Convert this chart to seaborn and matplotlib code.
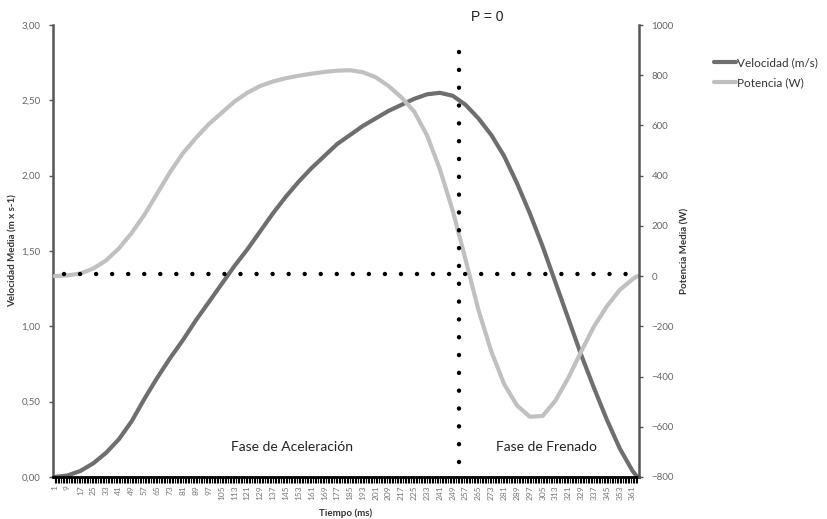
import matplotlib
matplotlib.use("Agg")
import matplotlib.pyplot as plt
from matplotlib.ticker import FuncFormatter, FixedLocator
from matplotlib.lines import Line2D
import seaborn as sns
import pandas as pd

# ---- data ----
tiempo = [1, 9, 17, 25, 33, 41, 49, 57, 65, 73, 81, 89, 97, 105, 113, 121, 129, 137,
          145, 153, 161, 169, 177, 185, 193, 201, 209, 217, 225, 233, 241, 249, 257,
          265, 273, 281, 289, 297, 305, 313, 321, 329, 337, 345, 353, 361, 364]
velocidad = [0.00, 0.01, 0.04, 0.09, 0.16, 0.25, 0.37, 0.52, 0.66, 0.79, 0.91, 1.04,
             1.16, 1.28, 1.40, 1.51, 1.63, 1.75, 1.86, 1.96, 2.05, 2.13, 2.21, 2.27,
             2.33, 2.38, 2.43, 2.47, 2.51, 2.54, 2.55, 2.53, 2.47, 2.38, 2.27, 2.13,
             1.95, 1.75, 1.53, 1.29, 1.05, 0.81, 0.59, 0.38, 0.19, 0.04, 0.00]
potencia = [0, 3, 10, 30, 62, 110, 172, 245, 330, 415, 490, 550, 605, 650, 695, 730,
            757, 775, 788, 798, 806, 813, 818, 820, 812, 792, 757, 712, 655, 560, 425,
            260, 65, -135, -300, -430, -515, -560, -557, -495, -405, -300, -200, -120,
            -55, -12, 0]
x_labels = list(range(1, 362, 8))
p_zero_t = 253          # vertical dotted line position (ms)
p_zero_level = 10       # horizontal dotted line (W)

vel_color = "#6e6e6e"
pot_color = "#c0c0c0"

sns.set_style("white")
plt.rcParams["font.family"] = ["Lato", "DejaVu Sans"]

fig = plt.figure(figsize=(8.27, 5.19), dpi=100)
ax = fig.add_axes([53/827, 1-477/519, (639-53)/827, (477-25)/519])
ax2 = ax.twinx()

df = pd.DataFrame({"t": tiempo, "v": velocidad, "p": potencia})
sns.lineplot(data=df, x="t", y="v", ax=ax, color=vel_color, lw=3, legend=False)
sns.lineplot(data=df, x="t", y="p", ax=ax2, color=pot_color, lw=3, legend=False)

ax.set_xlim(0, 365)
ax.set_ylim(0, 3.0)
ax2.set_ylim(-800, 1000)

# dotted lines
ax2.plot([7, 365], [p_zero_level, p_zero_level], color="black", lw=3.2,
         linestyle=(0, (0.01, 3.6)), dash_capstyle="round", zorder=5)
ax2.plot([p_zero_t, p_zero_t], [-740, 896], color="black", lw=3.2,
         linestyle=(0, (0.01, 4.0)), dash_capstyle="round", zorder=5)

# ticks
ax.set_yticks([0, 0.5, 1.0, 1.5, 2.0, 2.5, 3.0])
ax.yaxis.set_major_formatter(FuncFormatter(lambda v, p: f"{v:.2f}".replace(".", ",")))
ax2.set_yticks(list(range(-800, 1001, 200)))
ax.set_xticks(x_labels)
ax.set_xticklabels([str(v) for v in x_labels], rotation=90)
ax.xaxis.set_minor_locator(FixedLocator(list(range(1, 365))))

ax.tick_params(axis="y", which="major", direction="out", length=3, width=1,
               color="#555555", labelsize=7, labelcolor="#666666", pad=6, left=True)
ax2.tick_params(axis="y", which="major", direction="out", length=3, width=1,
                color="#555555", labelsize=7, labelcolor="#666666", pad=6, right=True)
ax.tick_params(axis="x", which="both", direction="out", length=4, width=0.8,
               color="black", labelsize=6, labelcolor="#777777", pad=2, bottom=True)

for a in (ax, ax2):
    a.spines["top"].set_visible(False)
ax.spines["right"].set_visible(False)
ax2.spines["left"].set_visible(False)
ax2.spines["bottom"].set_visible(False)
ax.spines["left"].set_color("#555555")
ax.spines["left"].set_linewidth(1.8)
ax2.spines["right"].set_color("#555555")
ax2.spines["right"].set_linewidth(1.8)
ax.spines["bottom"].set_color("black")
ax.spines["bottom"].set_linewidth(2)

ax.set_xlabel("Tiempo (ms)", fontsize=7, fontweight="bold", color="#333333", labelpad=6)
ax.set_ylabel("Velocidad Media (m x s-1)", fontsize=7, fontweight="bold", color="#333333", labelpad=3)
ax2.set_ylabel("Potencia Media (W)", fontsize=7, fontweight="bold", color="#333333", labelpad=5)

# annotations
fig.text(487/827, 1-17/519, "P = 0", ha="center", va="center", fontsize=10,
         family=["Liberation Sans", "DejaVu Sans"], color="#222222")
ax.text(0.408, 0.066, "Fase de Aceleración", transform=ax.transAxes, ha="center",
        va="center", fontsize=10, color="#222222")
ax.text(0.842, 0.066, "Fase de Frenado", transform=ax.transAxes, ha="center",
        va="center", fontsize=10, color="#222222")

handles = [Line2D([], [], color=vel_color, lw=3), Line2D([], [], color=pot_color, lw=3)]
fig.legend(handles, ["Velocidad (m/s)", "Potencia (W)"], loc="upper left",
           bbox_to_anchor=(703/827, 1-47/519), frameon=False, fontsize=8.5,
           handlelength=1.9, handletextpad=0.1, labelspacing=0.7,
           labelcolor="#333333")

fig.savefig("out.png", dpi=100)
